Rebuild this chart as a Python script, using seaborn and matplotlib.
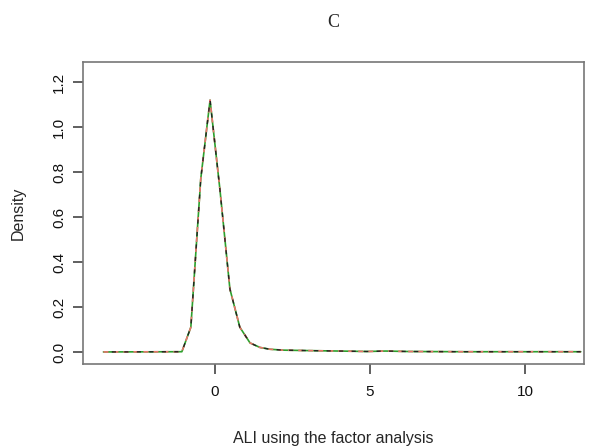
import matplotlib
matplotlib.use("Agg")
import matplotlib.pyplot as plt
import seaborn as sns
import pandas as pd

x_vals = [-3.6, -1.07, -0.78, -0.46, -0.16, 0.16, 0.48, 0.80, 1.13, 1.45, 1.77,
          2.2, 3.0, 4.0, 4.9, 5.5, 6.2, 8.0, 10.0, 11.8]
density = [0.0, 0.001, 0.11, 0.77, 1.12, 0.72, 0.28, 0.11, 0.04, 0.02, 0.012,
           0.008, 0.006, 0.004, 0.002, 0.004, 0.002, 0.001, 0.001, 0.001]
x_ticks = [0, 5, 10]
y_ticks = [0.0, 0.2, 0.4, 0.6, 0.8, 1.0, 1.2]

sns.set_style("ticks")
plt.rcParams['font.family'] = ['Liberation Sans', 'DejaVu Sans']

df = pd.DataFrame({"x": x_vals, "y": density})

fig = plt.figure(figsize=(5.97, 4.47), dpi=100)
ax = fig.add_axes([0.139, 0.186, 0.839, 0.675])

sns.lineplot(data=df, x="x", y="y", ax=ax, color="#2ca02c", lw=1.2, sort=False)
sns.lineplot(data=df, x="x", y="y", ax=ax, color="#e8736b", lw=1.2, sort=False,
             linestyle=(0, (3, 3)))
sns.lineplot(data=df, x="x", y="y", ax=ax, color="#222222", lw=1.0, sort=False,
             linestyle=(3, (3, 6)))

ax.set_xlim(-4.26, 11.9)
ax.set_ylim(-0.053, 1.289)
ax.set_xticks(x_ticks)
ax.set_yticks(y_ticks)
ax.set_xticklabels([str(t) for t in x_ticks], fontsize=11)
ax.set_yticklabels([f"{t:.1f}" for t in y_ticks], fontsize=11, rotation=90, va="center")
for s in ax.spines.values():
    s.set_color("#777777")
    s.set_linewidth(1.2)
ax.tick_params(colors="#444444", labelcolor="#111111", length=7.2, width=1.2)
ax.tick_params(axis="x", pad=8)
ax.tick_params(axis="y", pad=5)
ax.set_xlabel("ALI using the factor analysis", fontsize=11.5, labelpad=23)
ax.set_ylabel("Density", fontsize=11.5, labelpad=19)
fig.text(0.558, 0.95, "C", family=["Liberation Serif", "DejaVu Serif"], fontsize=13,
         ha="center", va="center")

fig.savefig("out.png", dpi=100)
